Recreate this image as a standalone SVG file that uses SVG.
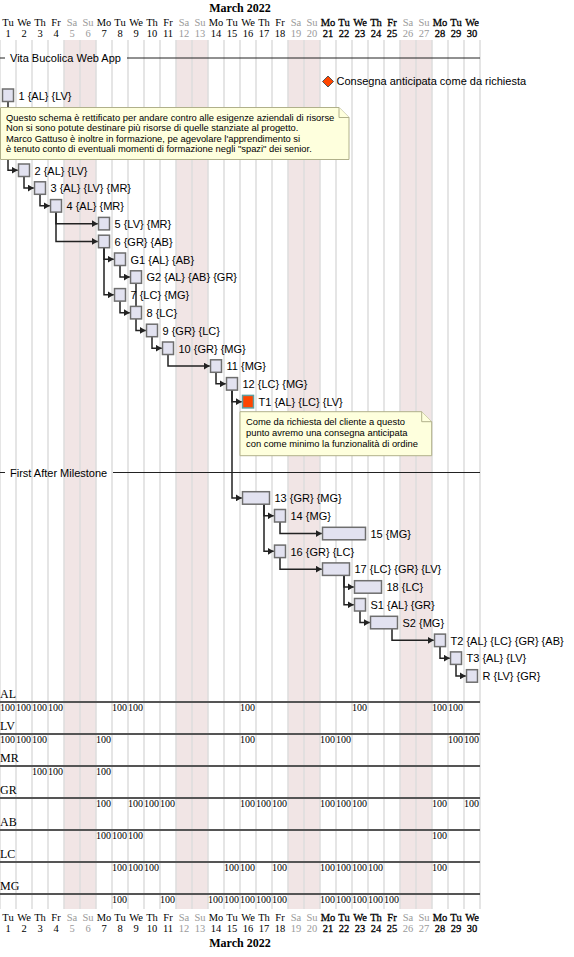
<svg xmlns="http://www.w3.org/2000/svg" width="574" height="957" viewBox="0 0 574 957">
<style>
.bg{fill:#FFFFFF}
.wk{fill:#F1E5E5}
.grid{stroke:#DCDCDC;stroke-width:1.5}
.day{font-family:"Liberation Serif","Times New Roman",serif;font-size:10.5px;text-anchor:middle;fill:#000}
.day .w{fill:#9A9A9A}
.day .b{stroke:#000;stroke-width:0.3}
.month{font-family:"Liberation Serif","Times New Roman",serif;font-size:12px;font-weight:bold;text-anchor:middle;fill:#000}
.task rect{fill:#E2E2F0;stroke:#6E6E6E;stroke-width:1.5}
.task rect.red{fill:#FF4500;stroke:#5F9EA0}
.lbl{font-family:"Liberation Sans",Arial,sans-serif;font-size:11px;fill:#000}
.sep line{stroke:#222;stroke-width:1}
.note path{fill:#FEFFDD;stroke:#B0B08A;stroke-width:1}
.nt{font-family:"Liberation Sans",Arial,sans-serif;font-size:9.4px;fill:#000}
.conn path{stroke:#222;stroke-width:1.5;fill:none}
.rname{font-family:"Liberation Serif","Times New Roman",serif;font-size:12px;fill:#000}
.rl{stroke:#555;stroke-width:2}
.pct{font-family:"Liberation Serif","Times New Roman",serif;font-size:10px;fill:#000}
.ms{fill:#FF4500;stroke:#555;stroke-width:1}
</style>
<defs>
<marker id="ah" markerUnits="userSpaceOnUse" viewBox="0 0 6 7" markerWidth="6" markerHeight="7" refX="6" refY="3.5" orient="auto">
<path d="M0,0 L6,3.5 L0,7 z" fill="#222"/>
</marker>
</defs>
<rect class="bg" x="0" y="0" width="574" height="957"/>
<g id="weekends">
<rect class="wk" x="64" y="40" width="32" height="869"/>
<rect class="wk" x="176" y="40" width="32" height="869"/>
<rect class="wk" x="288" y="40" width="32" height="869"/>
<rect class="wk" x="400" y="40" width="32" height="869"/>
</g>
<g id="gridlines">
<line class="grid" x1="0" y1="40" x2="0" y2="909"/>
<line class="grid" x1="16" y1="40" x2="16" y2="909"/>
<line class="grid" x1="32" y1="40" x2="32" y2="909"/>
<line class="grid" x1="48" y1="40" x2="48" y2="909"/>
<line class="grid" x1="64" y1="40" x2="64" y2="909"/>
<line class="grid" x1="80" y1="40" x2="80" y2="909"/>
<line class="grid" x1="96" y1="40" x2="96" y2="909"/>
<line class="grid" x1="112" y1="40" x2="112" y2="909"/>
<line class="grid" x1="128" y1="40" x2="128" y2="909"/>
<line class="grid" x1="144" y1="40" x2="144" y2="909"/>
<line class="grid" x1="160" y1="40" x2="160" y2="909"/>
<line class="grid" x1="176" y1="40" x2="176" y2="909"/>
<line class="grid" x1="192" y1="40" x2="192" y2="909"/>
<line class="grid" x1="208" y1="40" x2="208" y2="909"/>
<line class="grid" x1="224" y1="40" x2="224" y2="909"/>
<line class="grid" x1="240" y1="40" x2="240" y2="909"/>
<line class="grid" x1="256" y1="40" x2="256" y2="909"/>
<line class="grid" x1="272" y1="40" x2="272" y2="909"/>
<line class="grid" x1="288" y1="40" x2="288" y2="909"/>
<line class="grid" x1="304" y1="40" x2="304" y2="909"/>
<line class="grid" x1="320" y1="40" x2="320" y2="909"/>
<line class="grid" x1="336" y1="40" x2="336" y2="909"/>
<line class="grid" x1="352" y1="40" x2="352" y2="909"/>
<line class="grid" x1="368" y1="40" x2="368" y2="909"/>
<line class="grid" x1="384" y1="40" x2="384" y2="909"/>
<line class="grid" x1="400" y1="40" x2="400" y2="909"/>
<line class="grid" x1="416" y1="40" x2="416" y2="909"/>
<line class="grid" x1="432" y1="40" x2="432" y2="909"/>
<line class="grid" x1="448" y1="40" x2="448" y2="909"/>
<line class="grid" x1="464" y1="40" x2="464" y2="909"/>
<line class="grid" x1="480" y1="40" x2="480" y2="909"/>
</g>
<g id="header-top">
<text class="month" x="240" y="12">March 2022</text>
<text class="day" y="26"><tspan x="8">Tu</tspan><tspan x="24">We</tspan><tspan x="40">Th</tspan><tspan x="56">Fr</tspan><tspan class="w" x="72">Sa</tspan><tspan class="w" x="88">Su</tspan><tspan x="104">Mo</tspan><tspan x="120">Tu</tspan><tspan x="136">We</tspan><tspan x="152">Th</tspan><tspan x="168">Fr</tspan><tspan class="w" x="184">Sa</tspan><tspan class="w" x="200">Su</tspan><tspan x="216">Mo</tspan><tspan x="232">Tu</tspan><tspan x="248">We</tspan><tspan x="264">Th</tspan><tspan x="280">Fr</tspan><tspan class="w" x="296">Sa</tspan><tspan class="w" x="312">Su</tspan><tspan class="b" x="328">Mo</tspan><tspan class="b" x="344">Tu</tspan><tspan class="b" x="360">We</tspan><tspan class="b" x="376">Th</tspan><tspan class="b" x="392">Fr</tspan><tspan class="w" x="408">Sa</tspan><tspan class="w" x="424">Su</tspan><tspan class="b" x="440">Mo</tspan><tspan class="b" x="456">Tu</tspan><tspan class="b" x="472">We</tspan></text>
<text class="day" y="37.3"><tspan x="8">1</tspan><tspan x="24">2</tspan><tspan x="40">3</tspan><tspan x="56">4</tspan><tspan class="w" x="72">5</tspan><tspan class="w" x="88">6</tspan><tspan x="104">7</tspan><tspan x="120">8</tspan><tspan x="136">9</tspan><tspan x="152">10</tspan><tspan x="168">11</tspan><tspan class="w" x="184">12</tspan><tspan class="w" x="200">13</tspan><tspan x="216">14</tspan><tspan x="232">15</tspan><tspan x="248">16</tspan><tspan x="264">17</tspan><tspan x="280">18</tspan><tspan class="w" x="296">19</tspan><tspan class="w" x="312">20</tspan><tspan class="b" x="328">21</tspan><tspan class="b" x="344">22</tspan><tspan class="b" x="360">23</tspan><tspan class="b" x="376">24</tspan><tspan class="b" x="392">25</tspan><tspan class="w" x="408">26</tspan><tspan class="w" x="424">27</tspan><tspan class="b" x="440">28</tspan><tspan class="b" x="456">29</tspan><tspan class="b" x="472">30</tspan></text>
</g>
<g id="header-bottom">
<text class="day" y="921"><tspan x="8">Tu</tspan><tspan x="24">We</tspan><tspan x="40">Th</tspan><tspan x="56">Fr</tspan><tspan class="w" x="72">Sa</tspan><tspan class="w" x="88">Su</tspan><tspan x="104">Mo</tspan><tspan x="120">Tu</tspan><tspan x="136">We</tspan><tspan x="152">Th</tspan><tspan x="168">Fr</tspan><tspan class="w" x="184">Sa</tspan><tspan class="w" x="200">Su</tspan><tspan x="216">Mo</tspan><tspan x="232">Tu</tspan><tspan x="248">We</tspan><tspan x="264">Th</tspan><tspan x="280">Fr</tspan><tspan class="w" x="296">Sa</tspan><tspan class="w" x="312">Su</tspan><tspan class="b" x="328">Mo</tspan><tspan class="b" x="344">Tu</tspan><tspan class="b" x="360">We</tspan><tspan class="b" x="376">Th</tspan><tspan class="b" x="392">Fr</tspan><tspan class="w" x="408">Sa</tspan><tspan class="w" x="424">Su</tspan><tspan class="b" x="440">Mo</tspan><tspan class="b" x="456">Tu</tspan><tspan class="b" x="472">We</tspan></text>
<text class="day" y="931.5"><tspan x="8">1</tspan><tspan x="24">2</tspan><tspan x="40">3</tspan><tspan x="56">4</tspan><tspan class="w" x="72">5</tspan><tspan class="w" x="88">6</tspan><tspan x="104">7</tspan><tspan x="120">8</tspan><tspan x="136">9</tspan><tspan x="152">10</tspan><tspan x="168">11</tspan><tspan class="w" x="184">12</tspan><tspan class="w" x="200">13</tspan><tspan x="216">14</tspan><tspan x="232">15</tspan><tspan x="248">16</tspan><tspan x="264">17</tspan><tspan x="280">18</tspan><tspan class="w" x="296">19</tspan><tspan class="w" x="312">20</tspan><tspan class="b" x="328">21</tspan><tspan class="b" x="344">22</tspan><tspan class="b" x="360">23</tspan><tspan class="b" x="376">24</tspan><tspan class="b" x="392">25</tspan><tspan class="w" x="408">26</tspan><tspan class="w" x="424">27</tspan><tspan class="b" x="440">28</tspan><tspan class="b" x="456">29</tspan><tspan class="b" x="472">30</tspan></text>
<text class="month" x="240" y="946.5">March 2022</text>
</g>
<g id="separators" class="sep">
<g id="sep-vita">
<line x1="0" y1="58" x2="5" y2="58"/>
<text class="lbl" x="10" y="62">Vita Bucolica Web App</text>
<line x1="127" y1="58" x2="480" y2="58"/>
</g>
<g id="sep-first">
<line x1="0" y1="472.5" x2="5" y2="472.5"/>
<text class="lbl" x="10" y="476.5">First After Milestone</text>
<line x1="113" y1="472.5" x2="480" y2="472.5"/>
</g>
</g>
<g id="resources">
<g id="res-AL">
<text class="rname" x="0" y="698">AL</text>
<line class="rl" x1="0" y1="702" x2="480" y2="702"/>
<text class="pct" y="711"><tspan x="0">100</tspan><tspan x="16">100</tspan><tspan x="32">100</tspan><tspan x="48">100</tspan><tspan x="112">100</tspan><tspan x="128">100</tspan><tspan x="240">100</tspan><tspan x="352">100</tspan><tspan x="432">100</tspan><tspan x="448">100</tspan></text>
</g>
<g id="res-LV">
<text class="rname" x="0" y="730">LV</text>
<line class="rl" x1="0" y1="734" x2="480" y2="734"/>
<text class="pct" y="743"><tspan x="0">100</tspan><tspan x="16">100</tspan><tspan x="32">100</tspan><tspan x="96">100</tspan><tspan x="240">100</tspan><tspan x="320">100</tspan><tspan x="336">100</tspan><tspan x="448">100</tspan><tspan x="464">100</tspan></text>
</g>
<g id="res-MR">
<text class="rname" x="0" y="762">MR</text>
<line class="rl" x1="0" y1="766" x2="480" y2="766"/>
<text class="pct" y="775"><tspan x="32">100</tspan><tspan x="48">100</tspan><tspan x="96">100</tspan></text>
</g>
<g id="res-GR">
<text class="rname" x="0" y="794">GR</text>
<line class="rl" x1="0" y1="798" x2="480" y2="798"/>
<text class="pct" y="807"><tspan x="96">100</tspan><tspan x="128">100</tspan><tspan x="144">100</tspan><tspan x="160">100</tspan><tspan x="240">100</tspan><tspan x="256">100</tspan><tspan x="272">100</tspan><tspan x="320">100</tspan><tspan x="336">100</tspan><tspan x="352">100</tspan><tspan x="432">100</tspan><tspan x="464">100</tspan></text>
</g>
<g id="res-AB">
<text class="rname" x="0" y="826">AB</text>
<line class="rl" x1="0" y1="830" x2="480" y2="830"/>
<text class="pct" y="839"><tspan x="96">100</tspan><tspan x="112">100</tspan><tspan x="128">100</tspan><tspan x="432">100</tspan></text>
</g>
<g id="res-LC">
<text class="rname" x="0" y="858">LC</text>
<line class="rl" x1="0" y1="862" x2="480" y2="862"/>
<text class="pct" y="871"><tspan x="112">100</tspan><tspan x="128">100</tspan><tspan x="144">100</tspan><tspan x="224">100</tspan><tspan x="240">100</tspan><tspan x="272">100</tspan><tspan x="320">100</tspan><tspan x="336">100</tspan><tspan x="352">100</tspan><tspan x="368">100</tspan><tspan x="432">100</tspan></text>
</g>
<g id="res-MG">
<text class="rname" x="0" y="890">MG</text>
<line class="rl" x1="0" y1="894" x2="480" y2="894"/>
<text class="pct" y="903"><tspan x="112">100</tspan><tspan x="160">100</tspan><tspan x="208">100</tspan><tspan x="224">100</tspan><tspan x="240">100</tspan><tspan x="256">100</tspan><tspan x="272">100</tspan><tspan x="320">100</tspan><tspan x="336">100</tspan><tspan x="352">100</tspan><tspan x="368">100</tspan><tspan x="384">100</tspan></text>
</g>
</g>
<g id="connectors" class="conn">
<path marker-end="url(#ah)" d="M8 101.5 V170.25 H17.75"/>
<path marker-end="url(#ah)" d="M24 176.5 V188.05 H33.75"/>
<path marker-end="url(#ah)" d="M40 194.3 V205.85 H49.75"/>
<path marker-end="url(#ah)" d="M56 212.1 V223.65 H97.75"/>
<path marker-end="url(#ah)" d="M56 212.1 V241.45 H97.75"/>
<path marker-end="url(#ah)" d="M104 247.7 V259.25 H113.75"/>
<path marker-end="url(#ah)" d="M104 247.7 V294.85 H113.75"/>
<path marker-end="url(#ah)" d="M120 265.5 V277.05 H129.75"/>
<path marker-end="url(#ah)" d="M120 301.1 V312.65 H129.75"/>
<path d="M136 283.3 V306.4"/>
<path marker-end="url(#ah)" d="M136 318.9 V330.45 H145.75"/>
<path marker-end="url(#ah)" d="M152 336.7 V348.25 H161.75"/>
<path marker-end="url(#ah)" d="M168 354.5 V366.05 H209.75"/>
<path marker-end="url(#ah)" d="M216 372.3 V383.85 H225.75"/>
<path marker-end="url(#ah)" d="M232 390.1 V401.65 H241.75"/>
<path marker-end="url(#ah)" d="M232 390.1 V497.95 H241.75"/>
<path marker-end="url(#ah)" d="M264 504.2 V515.75 H273.75"/>
<path marker-end="url(#ah)" d="M264 504.2 V551.35 H273.75"/>
<path marker-end="url(#ah)" d="M280 522 V533.55 H321.75"/>
<path marker-end="url(#ah)" d="M280 557.6 V569.15 H321.75"/>
<path marker-end="url(#ah)" d="M344 575.4 V586.95 H353.75"/>
<path marker-end="url(#ah)" d="M344 575.4 V604.75 H353.75"/>
<path marker-end="url(#ah)" d="M360 611 V622.55 H369.75"/>
<path marker-end="url(#ah)" d="M392 628.8 V640.35 H433.75"/>
<path marker-end="url(#ah)" d="M440 646.6 V658.15 H449.75"/>
<path marker-end="url(#ah)" d="M456 664.4 V675.95 H465.75"/>
</g>
<g id="milestone-consegna">
<polygon class="ms" points="328,76 333.5,81.5 328,87 322.5,81.5"/>
<text class="lbl" x="336.5" y="85">Consegna anticipata come da richiesta</text>
</g>
<g id="task-1" class="task"><rect x="2.5" y="89" width="11" height="12.5"/><text class="lbl" x="18.5" y="99.5">1 {AL} {LV}</text></g>
<g id="task-2" class="task"><rect x="18.5" y="164" width="11" height="12.5"/><text class="lbl" x="34.5" y="174.5">2 {AL} {LV}</text></g>
<g id="task-3" class="task"><rect x="34.5" y="181.8" width="11" height="12.5"/><text class="lbl" x="50.5" y="192.3">3 {AL} {LV} {MR}</text></g>
<g id="task-4" class="task"><rect x="50.5" y="199.6" width="11" height="12.5"/><text class="lbl" x="66.5" y="210.1">4 {AL} {MR}</text></g>
<g id="task-5" class="task"><rect x="98.5" y="217.4" width="11" height="12.5"/><text class="lbl" x="114.5" y="227.9">5 {LV} {MR}</text></g>
<g id="task-6" class="task"><rect x="98.5" y="235.2" width="11" height="12.5"/><text class="lbl" x="114.5" y="245.7">6 {GR} {AB}</text></g>
<g id="task-G1" class="task"><rect x="114.5" y="253" width="11" height="12.5"/><text class="lbl" x="130.5" y="263.5">G1 {AL} {AB}</text></g>
<g id="task-G2" class="task"><rect x="130.5" y="270.8" width="11" height="12.5"/><text class="lbl" x="146.5" y="281.3">G2 {AL} {AB} {GR}</text></g>
<g id="task-7" class="task"><rect x="114.5" y="288.6" width="11" height="12.5"/><text class="lbl" x="130.5" y="299.1">7 {LC} {MG}</text></g>
<g id="task-8" class="task"><rect x="130.5" y="306.4" width="11" height="12.5"/><text class="lbl" x="146.5" y="316.9">8 {LC}</text></g>
<g id="task-9" class="task"><rect x="146.5" y="324.2" width="11" height="12.5"/><text class="lbl" x="162.5" y="334.7">9 {GR} {LC}</text></g>
<g id="task-10" class="task"><rect x="162.5" y="342" width="11" height="12.5"/><text class="lbl" x="178.5" y="352.5">10 {GR} {MG}</text></g>
<g id="task-11" class="task"><rect x="210.5" y="359.8" width="11" height="12.5"/><text class="lbl" x="226.5" y="370.3">11 {MG}</text></g>
<g id="task-12" class="task"><rect x="226.5" y="377.6" width="11" height="12.5"/><text class="lbl" x="242.5" y="388.1">12 {LC} {MG}</text></g>
<g id="task-T1" class="task"><rect class="red" x="242.5" y="395.4" width="11" height="12.5"/><text class="lbl" x="258.5" y="405.9">T1 {AL} {LC} {LV}</text></g>
<g id="task-13" class="task"><rect x="242.5" y="491.7" width="27" height="12.5"/><text class="lbl" x="274.5" y="502.2">13 {GR} {MG}</text></g>
<g id="task-14" class="task"><rect x="274.5" y="509.5" width="11" height="12.5"/><text class="lbl" x="290.5" y="520">14 {MG}</text></g>
<g id="task-15" class="task"><rect x="322.5" y="527.3" width="43" height="12.5"/><text class="lbl" x="370.5" y="537.8">15 {MG}</text></g>
<g id="task-16" class="task"><rect x="274.5" y="545.1" width="11" height="12.5"/><text class="lbl" x="290.5" y="555.6">16 {GR} {LC}</text></g>
<g id="task-17" class="task"><rect x="322.5" y="562.9" width="27" height="12.5"/><text class="lbl" x="354.5" y="573.4">17 {LC} {GR} {LV}</text></g>
<g id="task-18" class="task"><rect x="354.5" y="580.7" width="27" height="12.5"/><text class="lbl" x="386.5" y="591.2">18 {LC}</text></g>
<g id="task-S1" class="task"><rect x="354.5" y="598.5" width="11" height="12.5"/><text class="lbl" x="370.5" y="609">S1 {AL} {GR}</text></g>
<g id="task-S2" class="task"><rect x="370.5" y="616.3" width="27" height="12.5"/><text class="lbl" x="402.5" y="626.8">S2 {MG}</text></g>
<g id="task-T2" class="task"><rect x="434.5" y="634.1" width="11" height="12.5"/><text class="lbl" x="450.5" y="644.6">T2 {AL} {LC} {GR} {AB}</text></g>
<g id="task-T3" class="task"><rect x="450.5" y="651.9" width="11" height="12.5"/><text class="lbl" x="466.5" y="662.4">T3 {AL} {LV}</text></g>
<g id="task-R" class="task"><rect x="466.5" y="669.7" width="11" height="12.5"/><text class="lbl" x="482.5" y="680.2">R {LV} {GR}</text></g>
<g id="note-1" class="note">
<path d="M0.5,107.5 L339,107.5 L349,117.5 L349,159.5 L0.5,159.5 Z"/>
<path d="M339,107.5 L339,117.5 L349,117.5"/>
<text class="nt" x="6" y="120.5">Questo schema è rettificato per andare contro alle esigenze aziendali di risorse</text>
<text class="nt" x="6" y="131">Non si sono potute destinare più risorse di quelle stanziate al progetto.</text>
<text class="nt" x="6" y="141.5">Marco Gattuso è inoltre in formazione, pe agevolare l'apprendimento si</text>
<text class="nt" x="6" y="152">è tenuto conto di eventuali momenti di formazione negli "spazi" dei senior.</text>
</g>
<g id="note-2" class="note">
<path d="M240,411.7 L421.7,411.7 L431.7,421.7 L431.7,455.7 L240,455.7 Z"/>
<path d="M421.7,411.7 L421.7,421.7 L431.7,421.7"/>
<text class="nt" x="246" y="425.3">Come da richiesta del cliente a questo</text>
<text class="nt" x="246" y="436.3">punto avremo una consegna anticipata</text>
<text class="nt" x="246" y="447.3">con come minimo la funzionalità di ordine</text>
</g>
</svg>
